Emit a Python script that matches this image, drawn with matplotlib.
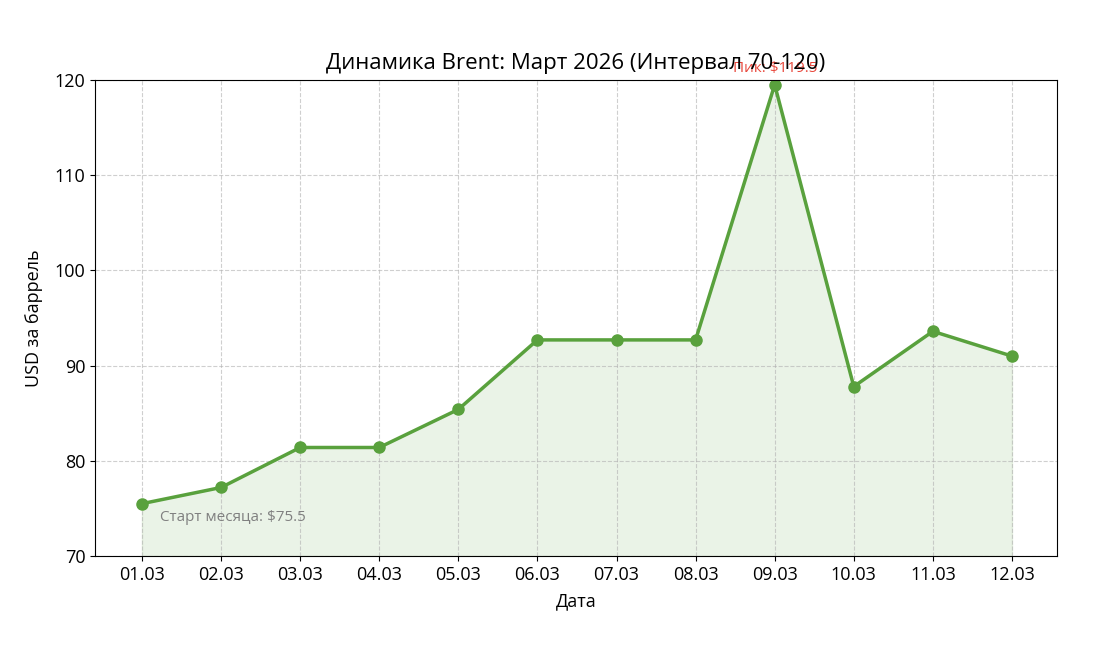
import matplotlib
matplotlib.use("Agg")
import matplotlib.pyplot as plt

dates = ["01.03", "02.03", "03.03", "04.03", "05.03", "06.03",
         "07.03", "08.03", "09.03", "10.03", "11.03", "12.03"]
prices = [75.5, 77.2, 81.4, 81.4, 85.4, 92.7, 92.7, 92.7, 119.5, 87.8, 93.6, 91.0]

plt.rcParams["font.family"] = ["Open Sans", "DejaVu Sans"]

green = "#59a13d"

fig = plt.figure(figsize=(11.02, 6.53), dpi=100)
ax = fig.add_axes([0.0862, 0.1485, 0.8730, 0.7290])

x = list(range(len(dates)))
ax.fill_between(x, prices, 70, color=green, alpha=0.12)
ax.plot(x, prices, color=green, linewidth=2.5, marker="o", markersize=8)

ax.set_ylim(70, 120)
ax.set_xlim(-0.594, 11.57)
ax.set_xticks(x)
ax.set_xticklabels(dates)
ax.tick_params(labelsize=13)
ax.grid(True, linestyle="--", alpha=0.6)

ax.set_title("Динамика Brent: Март 2026 (Интервал 70-120)", fontsize=16, pad=8)
ax.set_xlabel("Дата", fontsize=13, labelpad=6)
ax.set_ylabel("USD за баррель", fontsize=13, labelpad=8)

peak = prices.index(max(prices))
ax.text(peak, prices[peak] + 0.9, f"Пик: ${prices[peak]}", color="#e8473b",
        ha="center", va="bottom", fontsize=11)
ax.text(0.23, prices[0] - 0.7, f"Старт месяца: ${prices[0]}", color="grey",
        ha="left", va="top", fontsize=11)

fig.savefig("out.png", dpi=100)
